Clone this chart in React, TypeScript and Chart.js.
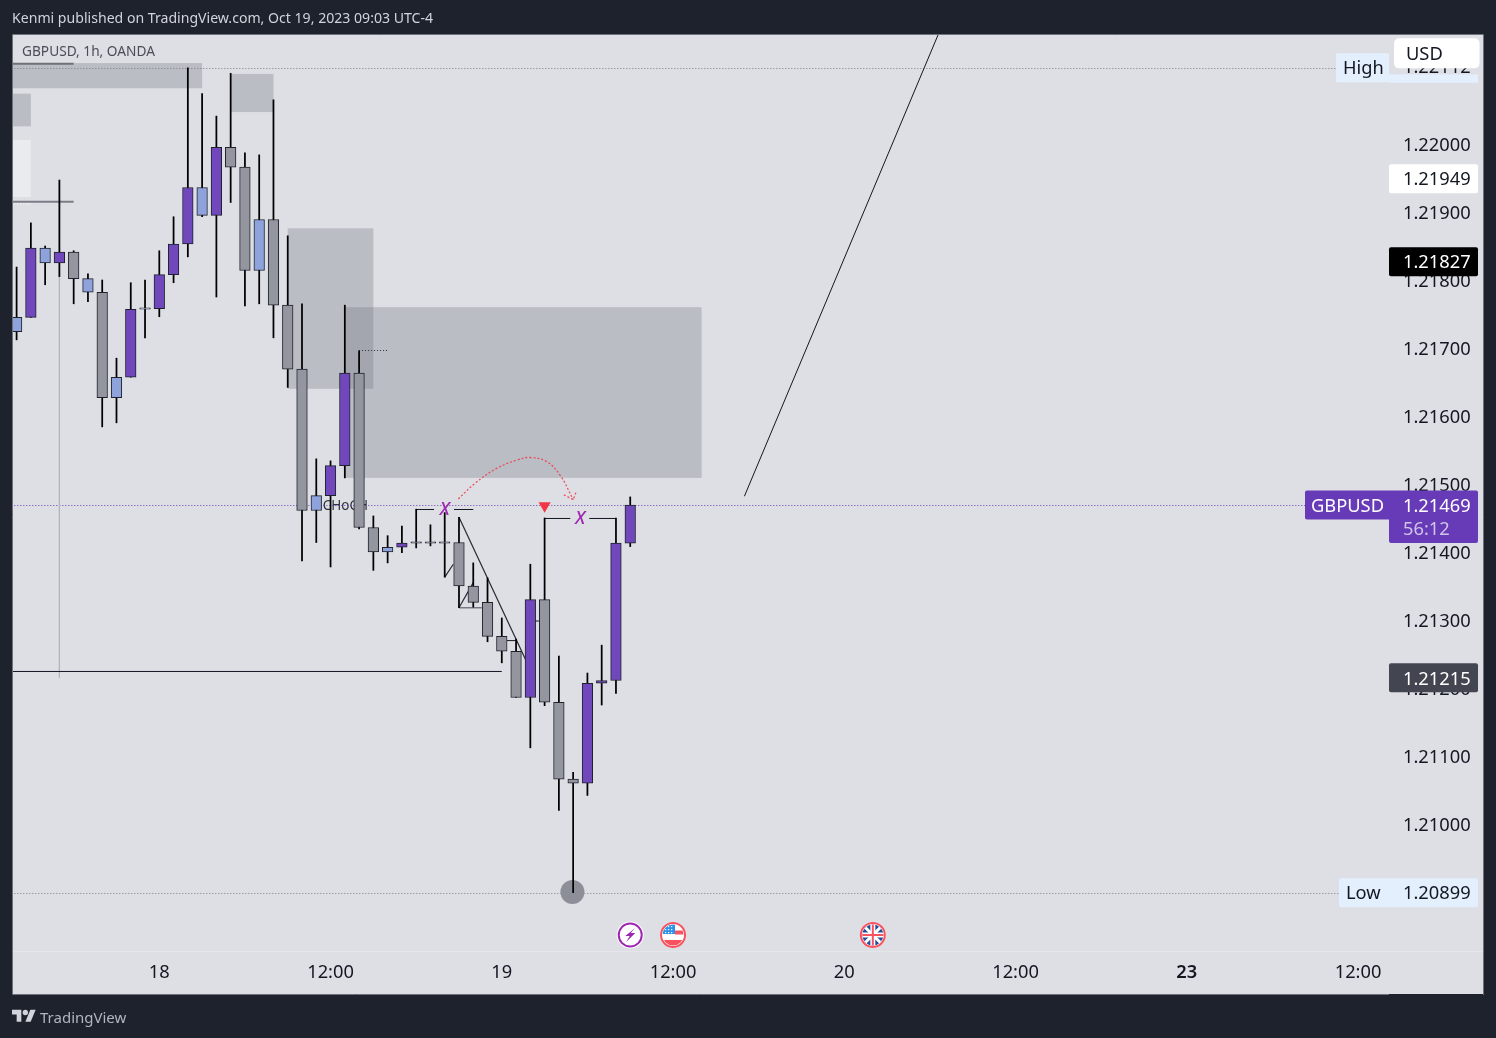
import React, { useEffect, useRef } from "react";
import { Chart, registerables } from "chart.js";

Chart.register(...registerables);

const FONT = '"Noto Sans", sans-serif';

const candleHours = [-10,-9,-8,-7,-6,-5,-4,-3,-2,-1,0,1,2,3,4,5,6,7,8,9,10,11,12,13,14,15,16,17,18,19,20,21,22,23,24,25,26,27,28,29,30,31,32,33];
const candleKinds = ["B","P","B","P","G","B","G","B","P","G","P","P","P","B","P","G","G","B","G","G","G","B","P","P","G","G","B","P","G","G","G","G","G","G","G","G","P","G","G","G","P","P","P","P"];
const bodyTop = [1.21745,1.21847,1.21847,1.21841,1.21841,1.21802,1.21782,1.21657,1.21757,1.21759,1.21808,1.21853,1.21936,1.21936,1.21995,1.21995,1.21966,1.21889,1.21889,1.21763,1.21669,1.21483,1.21527,1.21663,1.21663,1.21436,1.21407,1.21413,1.21415,1.21415,1.21415,1.21414,1.2135,1.21326,1.21276,1.21254,1.2133,1.2133,1.21179,1.21066,1.21207,1.21211,1.21413,1.21469];
const bodyBottom = [1.21724,1.21745,1.21825,1.21825,1.21802,1.21782,1.21627,1.21627,1.21657,1.21757,1.21758,1.21808,1.21853,1.21895,1.21895,1.21966,1.21814,1.21814,1.21763,1.21669,1.21461,1.21461,1.21483,1.21527,1.21436,1.214,1.214,1.21407,1.21413,1.21413,1.21413,1.2135,1.21326,1.21276,1.21254,1.21186,1.21186,1.21179,1.21066,1.2106,1.2106,1.21207,1.21211,1.21413];
const wickHigh = [1.21819,1.21884,1.2185,1.21947,1.21843,1.21809,1.218,1.21685,1.21796,1.218,1.21843,1.21893,1.22112,1.22074,1.22041,1.22104,1.21987,1.21984,1.22065,1.21865,1.21765,1.21537,1.21534,1.21763,1.21696,1.21453,1.21424,1.21438,1.21463,1.2144,1.21458,1.21451,1.21384,1.21362,1.21303,1.21272,1.21382,1.2145,1.21247,1.21076,1.21222,1.21263,1.2145,1.21481];
const wickLow = [1.21712,1.21745,1.21793,1.21805,1.21765,1.21768,1.21584,1.2159,1.21657,1.21715,1.21746,1.21796,1.21834,1.21893,1.21775,1.21914,1.21762,1.21765,1.21715,1.21642,1.21387,1.21414,1.21378,1.21509,1.21434,1.21373,1.21384,1.21399,1.21406,1.21409,1.21363,1.21318,1.21319,1.21268,1.21237,1.21186,1.21112,1.21174,1.2102,1.20899,1.21042,1.21175,1.21192,1.21408];

const kindColors: Record<string, string> = { P: "#7147BC", B: "#8EA3DC", G: "#94969F" };
const CANDLE_EDGE = "#1E222D";

const priceTicks = [1.21, 1.211, 1.212, 1.213, 1.214, 1.215, 1.216, 1.217, 1.218, 1.219, 1.22];
const timeTicks = [0, 12, 24, 36, 48, 60, 72, 84];
const timeLabels = ["18", "12:00", "19", "12:00", "20", "12:00", "23", "12:00"];
const weekStartTick = 72;

const highPrice = 1.22112;
const lowPrice = 1.20899;
const lastPrice = 1.21469;
const bidPrice = 1.21949;
const crossPrice = 1.21827;
const markPrice = 1.21215;

// zones: [hourLeft, hourRight, priceTop, priceBottom]
const grayZones = [
  [-11, 3, 1.22119, 1.22082],
  [-11, -9, 1.22074, 1.22026],
  [5, 8, 1.22103, 1.22047],
  [9, 15, 1.21876, 1.2164],
  [13, 38, 1.2176, 1.21509],
];
const lightZones = [[-11, -9, 1.22006, 1.21922]];

// segments: [hour1, price1, hour2, price2, color, width, dashed]
const drawnSegments: [number, number, number, number, string, number, boolean][] = [
  [-11, 1.212243, 24, 1.212243, "#131722", 1, false],
  [21, 1.21451, 26, 1.21227, "#262933", 1.2, false],
  [20, 1.21363, 20.6, 1.21382, "#262933", 1.2, false],
  [21, 1.21318, 22, 1.21355, "#262933", 1.2, false],
  [21, 1.21318, 22.6, 1.21318, "#71737B", 1.4, false],
  [24.35, 1.212697, 25, 1.212697, "#131722", 1, false],
  [26, 1.212985, 26.6, 1.212985, "#131722", 1, false],
  [18, 1.214625, 19.25, 1.214625, "#131722", 1, false],
  [20.65, 1.214625, 22, 1.214625, "#131722", 1, false],
  [27, 1.214493, 28.8, 1.214493, "#131722", 1, false],
  [30.13, 1.214493, 32, 1.214493, "#131722", 1, false],
  [41, 1.21482, 56, 1.22232, "#131722", 1, false],
  [-11, 1.22118, -6, 1.22118, "#6E7079", 2, false],
  [-11, 1.21915, -6, 1.21915, "#7C7E87", 2, false],
  [-11, 1.21912, -9, 1.21912, "#FFFFFF", 1, true],
  [-7, 1.21947, -7, 1.21215, "#B4B5BB", 1, false],
  [14, 1.216963, 16, 1.216963, "#2A2E39", 1, true],
  [-11, 1.22111, 82.5, 1.22111, "#787B86", 1, true],
  [-11, 1.208978, 82.7, 1.208978, "#787B86", 1, true],
  [-11, 1.214684, 80.3, 1.214684, "#673AB7", 1, true],
];

const arcHours = [20.95, 22.12, 23.64, 25.04, 25.97, 27.14, 28.08, 29.01];
const arcPrices = [1.21478, 1.21501, 1.21523, 1.21535, 1.21539, 1.21533, 1.21513, 1.21477];
const arrowHours = [28.35, 29.01, 29.2];
const arrowPrices = [1.21484, 1.21477, 1.21488];

const triangleMark = { x: 27, y: 1.21468 };
const lowMark = { x: 28.95, y: 1.209 };
const crossMarks = [
  { x: 20, y: 1.21464 },
  { x: 29.5, y: 1.2145 },
];
const chochMark = { x: 11.45, y: 1.21469, text: "CHoCH" };
const eventHours = { lightning: 33, us: 36, uk: 50 };

function tag(
  ctx: CanvasRenderingContext2D,
  x: number,
  cy: number,
  w: number,
  h: number,
  fill: string,
  radius = 2,
) {
  ctx.fillStyle = fill;
  ctx.beginPath();
  ctx.roundRect(x, cy - h / 2, w, h, radius);
  ctx.fill();
}

function label(
  ctx: CanvasRenderingContext2D,
  text: string,
  x: number,
  cy: number,
  color: string,
  font = `18.3px ${FONT}`,
) {
  ctx.font = font;
  ctx.fillStyle = color;
  ctx.textAlign = "left";
  ctx.textBaseline = "middle";
  ctx.fillText(text, x, cy + 1.5);
}

function drawLightning(ctx: CanvasRenderingContext2D, x: number, y: number) {
  ctx.beginPath();
  ctx.arc(x, y, 13.5, 0, Math.PI * 2);
  ctx.fillStyle = "#FFFFFF";
  ctx.fill();
  ctx.beginPath();
  ctx.arc(x, y, 11.5, 0, Math.PI * 2);
  ctx.strokeStyle = "#9C27B0";
  ctx.lineWidth = 2;
  ctx.stroke();
  ctx.fillStyle = "#9C27B0";
  ctx.beginPath();
  ctx.moveTo(x + 5, y - 7);
  ctx.lineTo(x - 5, y + 1);
  ctx.lineTo(x - 0.5, y + 1);
  ctx.lineTo(x - 4, y + 7);
  ctx.lineTo(x + 5, y - 2);
  ctx.lineTo(x + 0.5, y - 2);
  ctx.closePath();
  ctx.fill();
}

function drawUs(ctx: CanvasRenderingContext2D, x: number, y: number) {
  ctx.save();
  ctx.beginPath();
  ctx.arc(x, y, 13, 0, Math.PI * 2);
  ctx.fillStyle = "#FFFFFF";
  ctx.fill();
  ctx.beginPath();
  ctx.arc(x, y, 10.5, 0, Math.PI * 2);
  ctx.clip();
  ctx.fillStyle = "#FFFFFF";
  ctx.fillRect(x - 12, y - 12, 24, 24);
  ctx.fillStyle = "#F7525F";
  ctx.fillRect(x + 2, y - 4.5, 10, 4);
  ctx.fillRect(x - 12, y + 5, 24, 6);
  ctx.fillStyle = "#2E93E8";
  ctx.fillRect(x - 12, y - 12, 14, 11);
  ctx.fillStyle = "#FFFFFF";
  for (let i = 0; i < 3; i++) {
    for (let j = 0; j < 3; j++) {
      ctx.fillRect(x - 8 + i * 3, y - 9 + j * 3, 1.2, 1.2);
    }
  }
  ctx.restore();
  ctx.beginPath();
  ctx.arc(x, y, 12, 0, Math.PI * 2);
  ctx.strokeStyle = "#F7525F";
  ctx.lineWidth = 2;
  ctx.stroke();
}

function drawUk(ctx: CanvasRenderingContext2D, x: number, y: number) {
  ctx.save();
  ctx.beginPath();
  ctx.arc(x, y, 13, 0, Math.PI * 2);
  ctx.fillStyle = "#FFFFFF";
  ctx.fill();
  ctx.beginPath();
  ctx.arc(x, y, 10.5, 0, Math.PI * 2);
  ctx.clip();
  ctx.fillStyle = "#1E4E9A";
  ctx.fillRect(x - 12, y - 12, 24, 24);
  ctx.strokeStyle = "#FFFFFF";
  ctx.lineWidth = 3;
  ctx.beginPath();
  ctx.moveTo(x - 11, y - 11);
  ctx.lineTo(x + 11, y + 11);
  ctx.moveTo(x + 11, y - 11);
  ctx.lineTo(x - 11, y + 11);
  ctx.stroke();
  ctx.lineWidth = 5;
  ctx.beginPath();
  ctx.moveTo(x, y - 12);
  ctx.lineTo(x, y + 12);
  ctx.moveTo(x - 12, y);
  ctx.lineTo(x + 12, y);
  ctx.stroke();
  ctx.strokeStyle = "#F7525F";
  ctx.lineWidth = 2;
  ctx.beginPath();
  ctx.moveTo(x, y - 12);
  ctx.lineTo(x, y + 12);
  ctx.moveTo(x - 12, y);
  ctx.lineTo(x + 12, y);
  ctx.stroke();
  ctx.restore();
  ctx.beginPath();
  ctx.arc(x, y, 12, 0, Math.PI * 2);
  ctx.strokeStyle = "#F7525F";
  ctx.lineWidth = 2;
  ctx.stroke();
}

const panelPlugin = {
  id: "panel",
  beforeDraw(chart: any) {
    const { ctx, scales, chartArea } = chart;
    const right = scales.y.right;
    const bottom = scales.x.bottom;
    ctx.save();
    ctx.fillStyle = "#DEDFE4";
    ctx.fillRect(chartArea.left, chartArea.top, right - chartArea.left, bottom - chartArea.top);
    ctx.strokeStyle = "#6E727D";
    ctx.lineWidth = 1;
    ctx.beginPath();
    ctx.moveTo(chartArea.right, bottom + 0.5);
    ctx.lineTo(chartArea.left - 0.5, bottom + 0.5);
    ctx.lineTo(chartArea.left - 0.5, chartArea.top - 0.5);
    ctx.lineTo(right + 0.5, chartArea.top - 0.5);
    ctx.lineTo(right + 0.5, bottom + 1);
    ctx.stroke();
    ctx.fillStyle = "#E5E6EA";
    ctx.fillRect(chartArea.left, chartArea.bottom + 2, right - chartArea.left, 1);
    ctx.restore();
    // Nudge the price labels so that their digits centre on their tick.
    scales.y.getLabelItems(chartArea).forEach((item: any) => {
      item.options.translation[1] += 1.5;
    });
  },
  beforeDatasetsDraw(chart: any) {
    const { ctx, scales, chartArea } = chart;
    const { x, y } = scales;
    ctx.save();
    ctx.beginPath();
    ctx.rect(chartArea.left, chartArea.top, chartArea.width, chartArea.height);
    ctx.clip();
    const fillZone = (z: number[], color: string) => {
      ctx.fillStyle = color;
      const x1 = x.getPixelForValue(z[0]);
      const x2 = x.getPixelForValue(z[1]);
      const y1 = y.getPixelForValue(z[2]);
      const y2 = y.getPixelForValue(z[3]);
      ctx.fillRect(x1, y1, x2 - x1, y2 - y1);
    };
    lightZones.forEach((z) => fillZone(z, "rgba(240,241,244,0.65)"));
    grayZones.forEach((z) => fillZone(z, "rgba(120,123,134,0.34)"));
    ctx.font = `13.5px ${FONT}`;
    ctx.fillStyle = "#2F323C";
    ctx.textAlign = "left";
    ctx.textBaseline = "middle";
    ctx.fillText(chochMark.text, x.getPixelForValue(chochMark.x), y.getPixelForValue(chochMark.y) + 1.5);
    ctx.restore();
  },
  afterDatasetsDraw(chart: any) {
    const { ctx, scales, chartArea } = chart;
    const { x, y } = scales;
    ctx.save();
    ctx.font = `italic 500 18px ${FONT}`;
    ctx.fillStyle = "#9C27B0";
    ctx.textAlign = "center";
    ctx.textBaseline = "middle";
    crossMarks.forEach((m) => ctx.fillText("X", x.getPixelForValue(m.x), y.getPixelForValue(m.y) + 1));

    const eventY = chartArea.bottom - 14;
    drawLightning(ctx, x.getPixelForValue(eventHours.lightning), eventY);
    drawUs(ctx, x.getPixelForValue(eventHours.us), eventY);
    drawUk(ctx, x.getPixelForValue(eventHours.uk), eventY);

    const axisX = chartArea.right;
    const tagW = 89;
    const textX = axisX + 14;
    const h = 29;

    const highY = y.getPixelForValue(highPrice);
    label(ctx, highPrice.toFixed(5), textX, highY - 1.5, "#131722");
    tag(ctx, axisX - 53, highY, 53, h, "#E3EFFD", 1);
    ctx.fillStyle = "#E3EFFD";
    ctx.fillRect(axisX, highY + 6.5, tagW, 8.5);
    label(ctx, "High", axisX - 46, highY - 1, "#131722");
    tag(ctx, axisX + 5, highY - 14.5, 85.5, 30, "#FFFFFF", 5);
    label(ctx, "USD", axisX + 17, highY - 15, "#131722");

    const bidY = y.getPixelForValue(bidPrice);
    tag(ctx, axisX, bidY, tagW, h, "#FFFFFF");
    label(ctx, bidPrice.toFixed(5), textX, bidY, "#131722");

    const crossY = y.getPixelForValue(crossPrice);
    tag(ctx, axisX, crossY, tagW, h, "#000000");
    label(ctx, crossPrice.toFixed(5), textX, crossY, "#FFFFFF");

    const lastY = y.getPixelForValue(lastPrice);
    tag(ctx, axisX - 84, lastY, 84 + tagW, h, "#673AB7");
    ctx.fillStyle = "#673AB7";
    ctx.beginPath();
    ctx.roundRect(axisX, lastY + 10, tagW, 28, 2);
    ctx.fill();
    label(ctx, "GBPUSD", axisX - 78, lastY, "#FFFFFF");
    label(ctx, lastPrice.toFixed(5), textX, lastY, "#FFFFFF");
    label(ctx, "56:12", textX, lastY + 23, "#D1C4E9");

    const markY = y.getPixelForValue(markPrice);
    tag(ctx, axisX, markY, tagW, h, "#434651");
    label(ctx, markPrice.toFixed(5), textX, markY, "#FFFFFF");

    const lowY = y.getPixelForValue(lowPrice);
    tag(ctx, axisX - 50, lowY, 50 + tagW, h, "#E3EFFD");
    label(ctx, "Low", axisX - 43, lowY, "#131722");
    label(ctx, lowPrice.toFixed(5), textX, lowY, "#131722");
    ctx.restore();
  },
};

const App = () => {
  const ref = useRef<HTMLCanvasElement>(null);

  useEffect(() => {
    if (!ref.current) return;
    const line = { type: "line" as const, pointRadius: 0, tension: 0, fill: false };
    const segmentSets = drawnSegments.map(([h1, p1, h2, p2, color, width, dashed]) => ({
      ...line,
      data: [
        { x: h1, y: p1 },
        { x: h2, y: p2 },
      ],
      borderColor: color,
      borderWidth: width,
      borderDash: dashed ? [1, 2] : [],
      order: 6,
    }));
    const chart = new Chart(ref.current, {
      type: "bar",
      data: {
        datasets: [
          {
            type: "bar",
            data: candleHours.map((h, i) => ({ x: h, y: [bodyBottom[i], bodyTop[i]] })),
            backgroundColor: candleKinds.map((k) => kindColors[k]),
            borderColor: CANDLE_EDGE,
            borderWidth: 1,
            borderSkipped: false,
            barThickness: 10.6,
            grouped: false,
            order: 1,
          },
          {
            type: "bar",
            data: candleHours.map((h, i) => ({ x: h, y: [wickLow[i], wickHigh[i]] })),
            backgroundColor: "#000000",
            borderWidth: 0,
            barThickness: 1.1,
            grouped: false,
            order: 2,
          },
          {
            type: "scatter",
            data: [lowMark],
            pointStyle: "circle",
            pointRadius: 12,
            backgroundColor: "#8D8F98",
            borderWidth: 0,
            order: 3,
          },
          {
            type: "scatter",
            data: [triangleMark],
            pointStyle: "triangle",
            pointRotation: 180,
            pointRadius: 7,
            backgroundColor: "#F23645",
            borderWidth: 0,
            order: 0,
          },
          {
            ...line,
            data: arcHours.map((h, i) => ({ x: h, y: arcPrices[i] })),
            borderColor: "rgba(242,54,69,0.85)",
            borderWidth: 1.3,
            borderDash: [2, 2],
            tension: 0.4,
            order: 0,
          },
          {
            ...line,
            data: arrowHours.map((h, i) => ({ x: h, y: arrowPrices[i] })),
            borderColor: "rgba(242,54,69,0.85)",
            borderWidth: 1.3,
            borderDash: [2, 2],
            order: 0,
          },
          ...segmentSets,
        ] as any,
      },
      plugins: [panelPlugin],
      options: {
        animation: false,
        responsive: false,
        devicePixelRatio: 1,
        layout: { padding: { left: 13, top: 35, right: 13, bottom: 44 } },
        plugins: { legend: { display: false }, tooltip: { enabled: false }, title: { display: false } },
        scales: {
          x: {
            type: "linear",
            position: "bottom",
            offset: false,
            min: -10.252,
            max: 86.17,
            grid: { display: false, drawTicks: false },
            border: { display: false },
            afterFit: (s: any) => {
              s.height = 45;
            },
            afterBuildTicks: (s: any) => {
              s.ticks = timeTicks.map((value) => ({ value }));
            },
            ticks: {
              autoSkip: false,
              maxRotation: 0,
              padding: 13,
              color: "#131722",
              font: (c: any) => ({
                family: "Noto Sans",
                size: 18.3,
                weight: c.tick && c.tick.value === weekStartTick ? "600" : "400",
              }),
              callback: (_v: any, i: number) => timeLabels[i],
            },
          },
          y: {
            type: "linear",
            position: "right",
            min: 1.20816176,
            max: 1.22160294,
            grid: { display: false, drawTicks: false },
            border: { display: false },
            afterFit: (s: any) => {
              s.width = 94;
            },
            afterBuildTicks: (s: any) => {
              s.ticks = priceTicks.map((value) => ({ value }));
            },
            ticks: {
              autoSkip: false,
              padding: 14,
              color: "#131722",
              font: { family: "Noto Sans", size: 18.3 },
              callback: (v: any) => Number(v).toFixed(5),
            },
          },
        },
      } as any,
    });
    return () => chart.destroy();
  }, []);

  return (
    <div
      style={{
        position: "absolute",
        left: 0,
        top: 0,
        width: 1496,
        height: 1038,
        background: "#1E222D",
        overflow: "hidden",
        fontFamily: FONT,
      }}
    >
      <canvas ref={ref} width={1496} height={1038} style={{ display: "block", position: "absolute", left: 0, top: 0 }} />
      <div style={{ position: "absolute", left: 12, top: 8, fontSize: 14.1, lineHeight: "19px", color: "#D1D4DC", whiteSpace: "nowrap" }}>
        Kenmi published on TradingView.com, Oct 19, 2023 09:03 UTC-4
      </div>
      <div style={{ position: "absolute", left: 22, top: 41, fontSize: 13.7, lineHeight: "19px", color: "#4A4D57", whiteSpace: "nowrap" }}>
        GBPUSD, 1h, OANDA
      </div>
      <svg style={{ position: "absolute", left: 12, top: 1006 }} width="24" height="21" viewBox="0 0 36 28">
        <path d="M14 22H7V11H0V4h14v18zM28 22h-8l7.5-18h8L28 22z" fill="#D1D4DC" />
        <circle cx="20" cy="8" r="4" fill="#D1D4DC" />
      </svg>
      <div style={{ position: "absolute", left: 40, top: 1007, fontSize: 15, lineHeight: "20px", color: "#B2B5BE", whiteSpace: "nowrap" }}>
        TradingView
      </div>
    </div>
  );
};

export default App;
